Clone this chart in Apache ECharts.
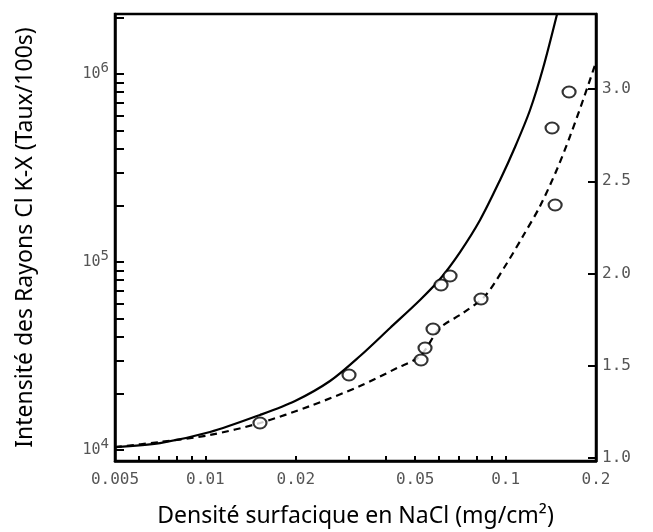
<!DOCTYPE html>
<html>
<head>
<meta charset="utf-8">
<script src="https://cdn.jsdelivr.net/npm/echarts@6/dist/echarts.min.js"></script>
<style>html,body{margin:0;padding:0;background:#fff}#c{width:653px;height:532px}</style>
</head>
<body>
<div id="c"></div>
<script>
// NaCl surface density (mg/cm2)
var solidX = [0.005, 0.00706, 0.01036, 0.0152, 0.01989, 0.02601, 0.03274, 0.04122, 0.05187, 0.06047, 0.07052, 0.0822, 0.09584, 0.1075, 0.1206, 0.1333, 0.1484];
var solidY = [10370, 10890, 12460, 15360, 18220, 23280, 31620, 44570, 62810, 81210, 113000, 167300, 273100, 409000, 643400, 1076000, 2085000];
var dashedX = [0.005, 0.00706, 0.01036, 0.0152, 0.02231, 0.03274, 0.0435, 0.05187, 0.06047, 0.07214, 0.0854, 0.1011, 0.1143, 0.1303, 0.1484, 0.164, 0.1811, 0.2];
var dashedY = [10370, 11030, 12020, 13920, 17140, 21900, 27310, 31620, 44570, 53550, 65950, 98790, 137500, 198600, 312300, 468000, 727200, 1158000];
var pointX = [0.0152, 0.03009, 0.05228, 0.0539, 0.05731, 0.06095, 0.0653, 0.08281, 0.1462, 0.1428, 0.1627];
var pointY = [13920, 25060, 30110, 34880, 44010, 75450, 84240, 63570, 201100, 516300, 802400];
// axis ticks and labels
var xLabels = [0.005, 0.01, 0.02, 0.05, 0.1, 0.2];
var xTicks = [0.006, 0.007, 0.008, 0.009, 0.01, 0.02, 0.03, 0.04, 0.05, 0.06, 0.07, 0.08, 0.09, 0.1];
var yLabels = [1e4, 1e5, 1e6];
var yTicks = [1e4, 2e4, 3e4, 4e4, 5e4, 6e4, 7e4, 8e4, 9e4, 1e5, 2e5, 3e5, 4e5, 5e5, 6e5, 7e5, 8e5, 9e5, 1e6, 2e6];
var rightLabels = [1.0, 1.5, 2.0, 2.5, 3.0];

function zip(a, b) { return a.map(function (v, i) { return [v, b[i]]; }); }

var tickFont = { fontFamily: 'DejaVu Sans Mono', fontSize: 16, color: '#555' };
var nameFont = { fontFamily: 'Noto Sans', fontSize: 23, color: '#000' };
var chart = echarts.init(document.getElementById('c'));
chart.setOption({
  animation: false,
  grid: { left: 115, right: 57, top: 14, bottom: 71, show: true, borderColor: '#000', borderWidth: 2.5,
    containLabel: false, outerBoundsMode: 'none' },
  xAxis: {
    type: 'log', logBase: 10, min: 0.005, max: 0.2,
    name: 'Densité surfacique en NaCl (mg/cm²)', nameLocation: 'middle', nameGap: 44,
    nameTextStyle: nameFont,
    axisLine: { show: true, lineStyle: { color: '#000', width: 2.5 } },
    axisTick: { show: true, inside: true, length: 5, customValues: xTicks, lineStyle: { color: '#000', width: 2 } },
    axisLabel: { customValues: xLabels, margin: 11, fontFamily: tickFont.fontFamily, fontSize: tickFont.fontSize, color: tickFont.color,
      formatter: function (v) { return String(+v.toPrecision(3)); } },
    splitLine: { show: false }, minorTick: { show: false }
  },
  yAxis: [{
    type: 'log', logBase: 10, min: 8740, max: 2085000, position: 'left',
    name: 'Intensité des Rayons Cl K-X (Taux/100s)', nameLocation: 'middle', nameGap: 78, nameRotate: 90,
    nameTextStyle: nameFont,
    axisLine: { show: true, lineStyle: { color: '#000', width: 2.5 } },
    axisTick: { show: true, inside: true, length: 9, customValues: yTicks, lineStyle: { color: '#000', width: 2 } },
    axisLabel: { customValues: yLabels, margin: 6,
      formatter: function (v) { return '{b|10}{s|' + Math.round(Math.log10(v)) + '}'; },
      rich: {
        b: { fontFamily: tickFont.fontFamily, fontSize: 15, color: '#555' },
        s: { fontFamily: tickFont.fontFamily, fontSize: 14, color: '#555', padding: [0, 0, 12, 0] }
      } },
    splitLine: { show: false }
  }, {
    type: 'value', min: 0.984, max: 3.407, position: 'right',
    axisLine: { show: true, lineStyle: { color: '#000', width: 2.5 } },
    axisTick: { show: true, inside: true, length: 8, customValues: rightLabels, lineStyle: { color: '#000', width: 2 } },
    axisLabel: { customValues: rightLabels, margin: 6, fontFamily: tickFont.fontFamily, fontSize: tickFont.fontSize, color: tickFont.color,
      formatter: function (v) { return (+v).toFixed(1); } },
    splitLine: { show: false }
  }],
  series: [{
    type: 'line', data: zip(solidX, solidY), showSymbol: false, smooth: 0.3,
    lineStyle: { color: '#000', width: 2.2 }
  }, {
    type: 'line', data: zip(dashedX, dashedY), showSymbol: false, smooth: 0.3,
    lineStyle: { color: '#000', width: 2.2, type: [7, 5] }
  }, {
    type: 'scatter', data: zip(pointX, pointY), symbol: 'emptyCircle', symbolSize: [13, 11],
    itemStyle: { color: '#000', borderColor: '#000', borderWidth: 2.5 }, z: 5
  }]
});
</script>
</body>
</html>
